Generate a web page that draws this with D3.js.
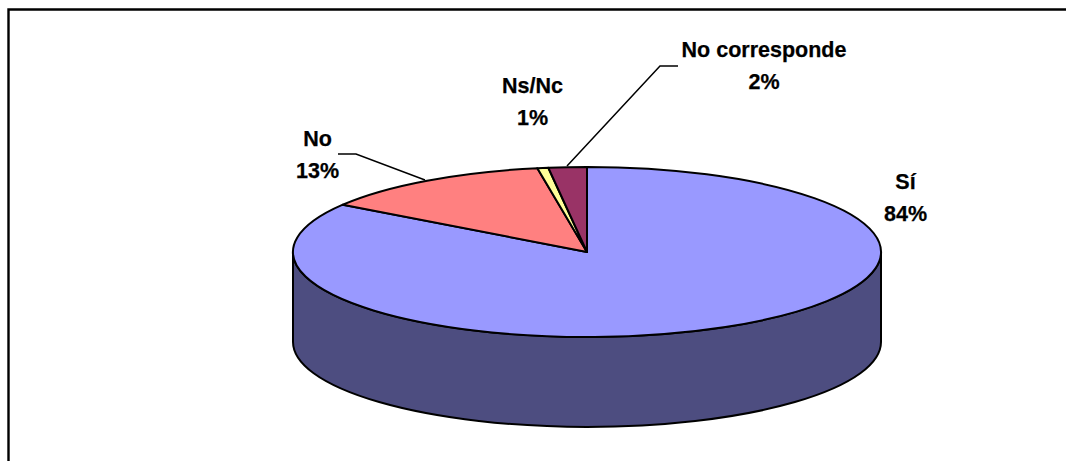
<!DOCTYPE html>
<html><head><meta charset="utf-8">
<script src="https://cdn.jsdelivr.net/npm/d3@7/dist/d3.min.js"></script>
<style>html,body{margin:0;padding:0;background:#fff}svg{display:block}
text{font-family:"Liberation Sans",Arial,sans-serif;font-weight:bold;font-size:21.5px;fill:#000;stroke:#000;stroke-width:.25px}</style>
</head><body><svg id="c" width="1066" height="461"></svg>
<script>
const categories=["Sí","No","Ns/Nc","No corresponde"];
const values=[84.4,12.9,0.6,2.1];
const percentLabels=["84%","13%","1%","2%"];
const topColors=["#9999ff","#ff8080","#ffff99","#993366"];
const sideColor="#4d4d80";
const svg=d3.select("#c");
const cx=587,cy=252,rx=294,ry=85,depth=90;
svg.append("path").attr("d","M8.5,461V9.5H1066").attr("fill","none").attr("stroke","#000").attr("stroke-width",2.4);
const arcs=d3.pie().sort(null).value(d=>d)(values);
const arc=d3.arc().innerRadius(0).outerRadius(rx);
const side=`M${cx-rx},${cy}V${cy+depth}A${rx},${ry} 0 0 0 ${cx+rx},${cy+depth}V${cy}A${rx},${ry} 0 0 1 ${cx-rx},${cy}Z`;
svg.append("path").attr("d",side).attr("fill",sideColor).attr("stroke","#000").attr("stroke-width",2);
const g=svg.append("g").attr("transform",`translate(${cx},${cy}) scale(1,${ry/rx})`);
g.selectAll("path").data(arcs).join("path").attr("d",arc)
 .attr("fill",(d,i)=>topColors[i]).attr("stroke","#000").attr("stroke-width",2)
 .attr("stroke-linejoin","round").attr("vector-effect","non-scaling-stroke");
const labelPos=[[905.5,189],[317.5,146],[532.5,93],[764,57]];
labelPos.forEach((p,i)=>{
 const t=svg.append("text").attr("text-anchor","middle");
 t.append("tspan").attr("x",p[0]).attr("y",p[1]).text(categories[i]);
 t.append("tspan").attr("x",p[0]).attr("y",p[1]+32).text(percentLabels[i]);
});
const leaders=[[[338,154],[356,154],[425,180]],[[678,66],[660,66],[567,166]]];
const line=d3.line();
leaders.forEach(l=>svg.append("path").attr("d",line(l)).attr("fill","none").attr("stroke","#000").attr("stroke-width",1.5));
</script></body></html>
